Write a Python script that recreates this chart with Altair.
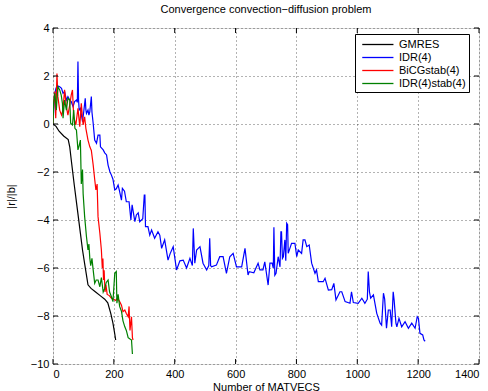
import altair as alt
import pandas as pd

series_names = ["GMRES", "IDR(4)", "BiCGstab(4)", "IDR(4)stab(4)"]
series_colors = ["#000000", "#0000ff", "#ff0000", "#008000"]
x_ticks = [0, 200, 400, 600, 800, 1000, 1200, 1400]
y_ticks = [-10, -8, -6, -4, -2, 0, 2, 4]

gmres_x = [0, 10, 20, 35, 50, 55, 60, 70, 80, 90,
           97, 105, 115, 125, 140, 155, 170, 180, 190, 197,
           203, 206]
gmres_y = [0, -0.1, -0.3, -0.5, -0.65, -0.95, -1.5, -2.55, -3.55, -4.55,
           -5.25, -5.9, -6.7, -6.85, -7.0, -7.15, -7.3, -7.45, -7.9, -8.3,
           -8.75, -9.0]

idr_x = [0, 5, 10, 16, 22, 28, 33, 38, 44, 49,
         55, 60, 66, 71, 77, 80, 82, 84, 86, 90,
         97, 101, 106, 108, 110, 115, 118, 121, 126, 128,
         132, 137, 143, 148, 154, 156, 165, 170, 176, 181,
         187, 192, 197, 203, 208, 214, 219, 225, 228, 235,
         241, 250, 256, 260, 269, 274, 280, 285, 295, 300,
         302, 304, 312, 318, 324, 334, 345, 351, 357, 367,
         378, 385, 395, 406, 417, 428, 439, 450, 458, 461,
         466, 472, 483, 493, 505, 512, 515, 518, 521, 537,
         548, 559, 570, 581, 592, 603, 620, 631, 641, 645,
         660, 674, 680, 690, 696, 707, 713, 720, 724, 726,
         729, 733, 740, 746, 749, 751, 754, 757, 762, 765,
         768, 771, 773, 784, 795, 801, 806, 817, 822, 828,
         834, 842, 850, 861, 866, 872, 888, 894, 905, 916,
         923, 930, 943, 949, 960, 976, 981, 987, 1003, 1015,
         1025, 1033, 1036, 1040, 1044, 1053, 1064, 1075, 1080, 1086,
         1090, 1096, 1102, 1108, 1113, 1118, 1121, 1127, 1130, 1137,
         1146, 1157, 1168, 1179, 1190, 1197, 1201, 1206, 1215, 1219,
         1223]
idr_y = [0, 1.2, 1.5, 1.58, 1.55, 1.49, 1.28, 1.35, 1.0, 1.14,
         1.0, 0.93, 0.72, 0.93, 1.0, 0.9, 2.6, 1.0, 0.58, 0.65,
         0.1, 0.51, 1.07, 0.6, 0.44, 0.58, 0.37, 0.51, 1.14, 0.5,
         0.03, -0.67, -0.8, -0.46, -0.46, -0.95, -1.08, -1.2, -1.29, -1.71,
         -1.99, -2.13, -2.3, -2.75, -2.7, -2.54, -2.82, -3.17, -2.68, -2.8,
         -3.24, -3.24, -4.0, -3.37, -4.07, -3.79, -3.7, -4.07, -3.95, -2.96,
         -2.96, -4.28, -4.28, -4.63, -4.42, -4.76, -4.49, -4.63, -5.18, -4.83,
         -5.67, -5.4, -5.11, -6.08, -5.7, -5.67, -6.0, -5.6, -5.9, -4.35,
         -5.8, -5.25, -5.11, -5.8, -6.08, -5.9, -4.76, -5.9, -5.95, -5.88,
         -5.53, -5.53, -6.22, -5.53, -5.39, -5.95, -5.95, -5.18, -6.29, -6.15,
         -6.2, -5.8, -6.08, -6.08, -5.74, -6.71, -5.8, -5.8, -6.0, -4.3,
         -6.3, -6.22, -5.53, -5.95, -4.49, -4.49, -5.6, -5.53, -4.83, -5.7,
         -4.14, -4.2, -5.39, -4.97, -4.97, -5.53, -5.25, -5.39, -4.83, -4.83,
         -5.11, -5.04, -5.8, -6.22, -6.08, -6.57, -6.57, -6.43, -6.92, -6.9,
         -6.64, -7.33, -6.99, -6.99, -7.4, -7.47, -6.99, -7.44, -7.47, -7.26,
         -7.47, -7.3, -6.15, -7.0, -7.26, -7.12, -7.89, -8.3, -8.38, -7.05,
         -7.3, -8.51, -7.75, -7.75, -8.45, -6.99, -7.33, -8.3, -8.45, -8.1,
         -8.45, -8.24, -8.51, -8.3, -8.51, -8.03, -8.1, -8.72, -8.79, -9.0,
         -9.05]

bicg_x = [0, 2, 6, 9, 13, 16, 22, 28, 33, 38,
          44, 49, 55, 60, 64, 68, 75, 82, 88, 93,
          99, 104, 108, 115, 121, 126, 132, 137, 141, 145,
          148, 154, 159, 162, 164, 166, 168, 171, 174, 178,
          185, 192, 200, 206, 212, 219, 225, 230, 236, 241,
          247, 250, 253, 258, 261, 263]
bicg_y = [0, 0.86, 1.35, 0.24, 2.1, 1.14, 0.58, 0.37, 0.6, 1.42,
          0.72, 0.37, 0.8, 1.21, 1.42, 0.3, -0.04, 0.65, -0.11, 0.86,
          -0.04, 0.3, -0.18, -0.67, -0.95, -1.1, -1.7, -2.3, -2.75, -2.5,
          -3.86, -4.55, -5.25, -6.0, -5.6, -6.5, -6.1, -7.0, -6.7, -7.1,
          -7.15, -7.26, -7.3, -7.35, -7.25, -7.4, -7.55, -7.82, -7.75, -7.9,
          -8.03, -7.6, -8.6, -8.03, -8.9, -9.0]

idrs_x = [0, 2, 6, 11, 16, 22, 27, 31, 33, 38,
          44, 49, 55, 58, 64, 68, 72, 77, 82, 86,
          90, 93, 97, 99, 104, 110, 115, 118, 121, 124,
          128, 132, 137, 142, 148, 154, 159, 165, 170, 175,
          181, 186, 192, 197, 203, 208, 210, 214, 219, 225,
          230, 236, 241, 247, 252, 258, 261]
idrs_y = [0, 0.86, 1.28, 0.58, 1.55, 1.42, 1.2, 0.86, 0.24, 1.0,
          0.58, 1.07, 1.0, 0.03, -0.04, 0.58, -0.18, -0.25, -1.08, -0.9,
          -0.67, -2.5, -1.9, -2.9, -3.86, -4.7, -5.25, -5.0, -5.6, -5.9,
          -5.6, -6.08, -6.64, -6.5, -6.5, -6.78, -6.4, -7.0, -6.85, -6.6,
          -6.5, -7.0, -7.2, -7.4, -6.22, -6.15, -7.47, -7.1, -7.6, -7.8,
          -8.2, -8.45, -8.6, -8.9, -8.95, -9.0, -9.58]

rows = []
for name, xs, ys in [("GMRES", gmres_x, gmres_y), ("IDR(4)", idr_x, idr_y),
                     ("BiCGstab(4)", bicg_x, bicg_y), ("IDR(4)stab(4)", idrs_x, idrs_y)]:
    assert len(xs) == len(ys), name
    for i, (xv, yv) in enumerate(zip(xs, ys)):
        rows.append({"series": name, "x": xv, "y": yv, "i": i})
df = pd.DataFrame(rows)

W, H = 426, 336
FONT = "Liberation Sans"
xscale = alt.Scale(domain=[0, 1400], nice=False, zero=False)
yscale = alt.Scale(domain=[-10, 4], nice=False, zero=False)

axis_common = dict(grid=True, gridDash=[1, 3], gridColor="#000000", gridOpacity=0.6,
                   gridWidth=1, ticks=False, tickSize=0, domain=False,
                   labelFont=FONT, labelFontSize=11, labelColor="#000",
                   titleFont=FONT, titleFontSize=11, titleFontWeight="normal",
                   titleColor="#000", format="d")
x_axis = alt.Axis(values=x_ticks, title="Number of MATVECS",
                  labelPadding=4, titlePadding=2, **axis_common)
y_axis = alt.Axis(values=y_ticks, title="|r|/|b|",
                  labelPadding=4, titlePadding=14, **axis_common)

lines = alt.Chart(df).mark_line(strokeWidth=1.2, clip=True).encode(
    x=alt.X("x:Q", scale=xscale, axis=x_axis),
    y=alt.Y("y:Q", scale=yscale, axis=y_axis),
    color=alt.Color("series:N",
                    scale=alt.Scale(domain=series_names, range=series_colors),
                    legend=alt.Legend(title=None, orient="none", legendX=302, legendY=6,
                                      symbolType="M-0.5,0H4.3", symbolSize=169,
                                      symbolStrokeWidth=1.3, labelFont=FONT,
                                      labelFontSize=11, labelColor="#000",
                                      strokeColor="#000", fillColor="#fff",
                                      padding=3, rowPadding=0, labelOffset=26)),
    order=alt.Order("i:Q"),
)

xt = pd.DataFrame({"x": x_ticks})
yt = pd.DataFrame({"y": y_ticks})
tick_len = 5
bottom_ticks = alt.Chart(xt).mark_rule(color="#000", strokeWidth=1).encode(
    x=alt.X("x:Q", scale=xscale, axis=x_axis), y=alt.value(H), y2=alt.value(H - tick_len))
top_ticks = alt.Chart(xt).mark_rule(color="#000", strokeWidth=1).encode(
    x=alt.X("x:Q", scale=xscale, axis=x_axis), y=alt.value(0), y2=alt.value(tick_len))
left_ticks = alt.Chart(yt).mark_rule(color="#000", strokeWidth=1).encode(
    y=alt.Y("y:Q", scale=yscale, axis=y_axis), x=alt.value(0), x2=alt.value(tick_len))
right_ticks = alt.Chart(yt).mark_rule(color="#000", strokeWidth=1).encode(
    y=alt.Y("y:Q", scale=yscale, axis=y_axis), x=alt.value(W), x2=alt.value(W - tick_len))

chart = alt.layer(lines, bottom_ticks, top_ticks, left_ticks, right_ticks).properties(
    width=W, height=H,
    title=alt.TitleParams("Convergence convection\u2212diffusion problem", font=FONT,
                          fontSize=11, fontWeight="normal", color="#000", offset=7),
    autosize=alt.AutoSizeParams(type="none"),
    padding={"left": 53, "top": 28, "right": 9, "bottom": 27},
).configure_view(stroke="#000", strokeWidth=1).configure(background="#fff")

chart.save("out.html", embed_options={"renderer": "svg", "actions": False})
